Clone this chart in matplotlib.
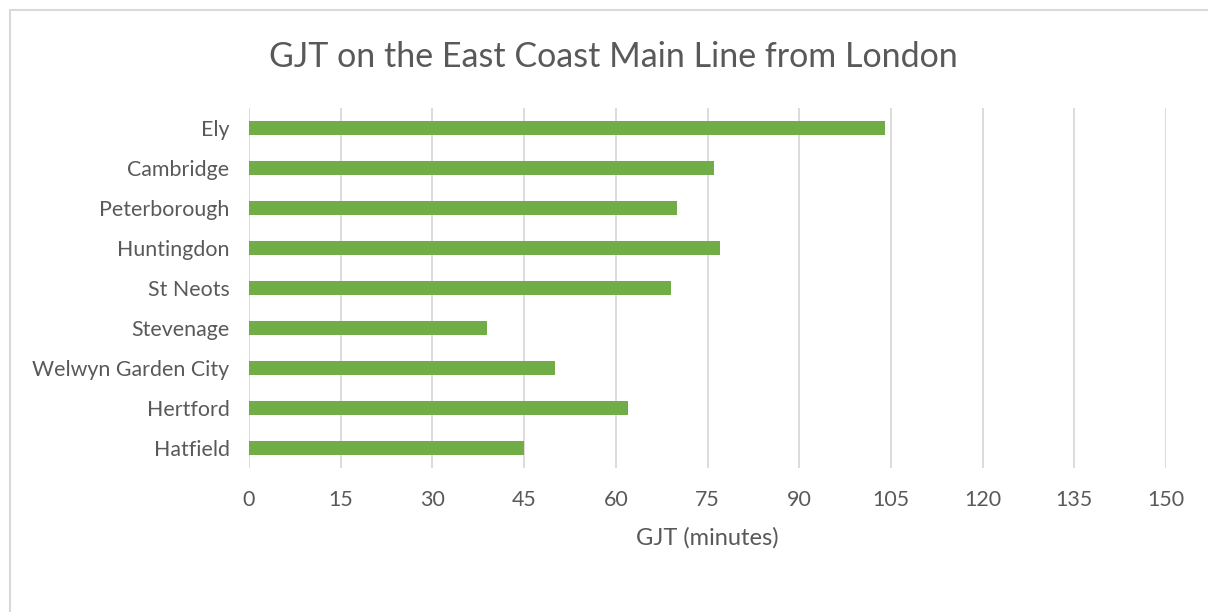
import matplotlib
matplotlib.use("Agg")
import matplotlib.pyplot as plt
from matplotlib.patches import Rectangle

# station names, bottom to top as drawn
stations = ['Hatfield', 'Hertford', 'Welwyn Garden City', 'Stevenage', 'St Neots',
            'Huntingdon', 'Peterborough', 'Cambridge', 'Ely']
gjt = [45, 62, 50, 39, 69, 77, 70, 76, 104]
x_ticks = [0, 15, 30, 45, 60, 75, 90, 105, 120, 135, 150]

text_col = '#595959'
plt.rcParams['font.family'] = ['Lato', 'DejaVu Sans']

fig = plt.figure(figsize=(12.08, 6.12), dpi=100)
ax = fig.add_axes([249 / 1208, 1 - 468 / 612, 917 / 1208, 360 / 612])

# chart border (only top and left edges fall inside the picture)
fig.patches.append(Rectangle((9.5 / 1208, -0.1), 1.2, 1 - 9.5 / 612 + 0.1,
                             transform=fig.transFigure, fill=False,
                             edgecolor='#D9D9D9', linewidth=1.5))

ax.barh(range(len(stations)), gjt, height=0.35, color='#70AD47', zorder=3)
ax.set_xlim(0, 150)
ax.set_ylim(-0.5, len(stations) - 0.5)
ax.set_xticks(x_ticks)
ax.set_yticks(range(len(stations)))
ax.set_yticklabels(stations)
ax.grid(axis='x', color='#D9D9D9', linewidth=1.3, zorder=0)
for s in ax.spines.values():
    s.set_visible(False)
ax.tick_params(length=0, labelsize=15.4, colors=text_col)
ax.tick_params(axis='x', pad=16)
ax.tick_params(axis='y', pad=14)

ax.set_xlabel('GJT (minutes)', fontsize=17, color=text_col, labelpad=12)
fig.text(613 / 1208, 1 - 57 / 612, 'GJT on the East Coast Main Line from London',
         ha='center', va='center', fontsize=24.5, color=text_col)

fig.savefig('out.png', dpi=100)
